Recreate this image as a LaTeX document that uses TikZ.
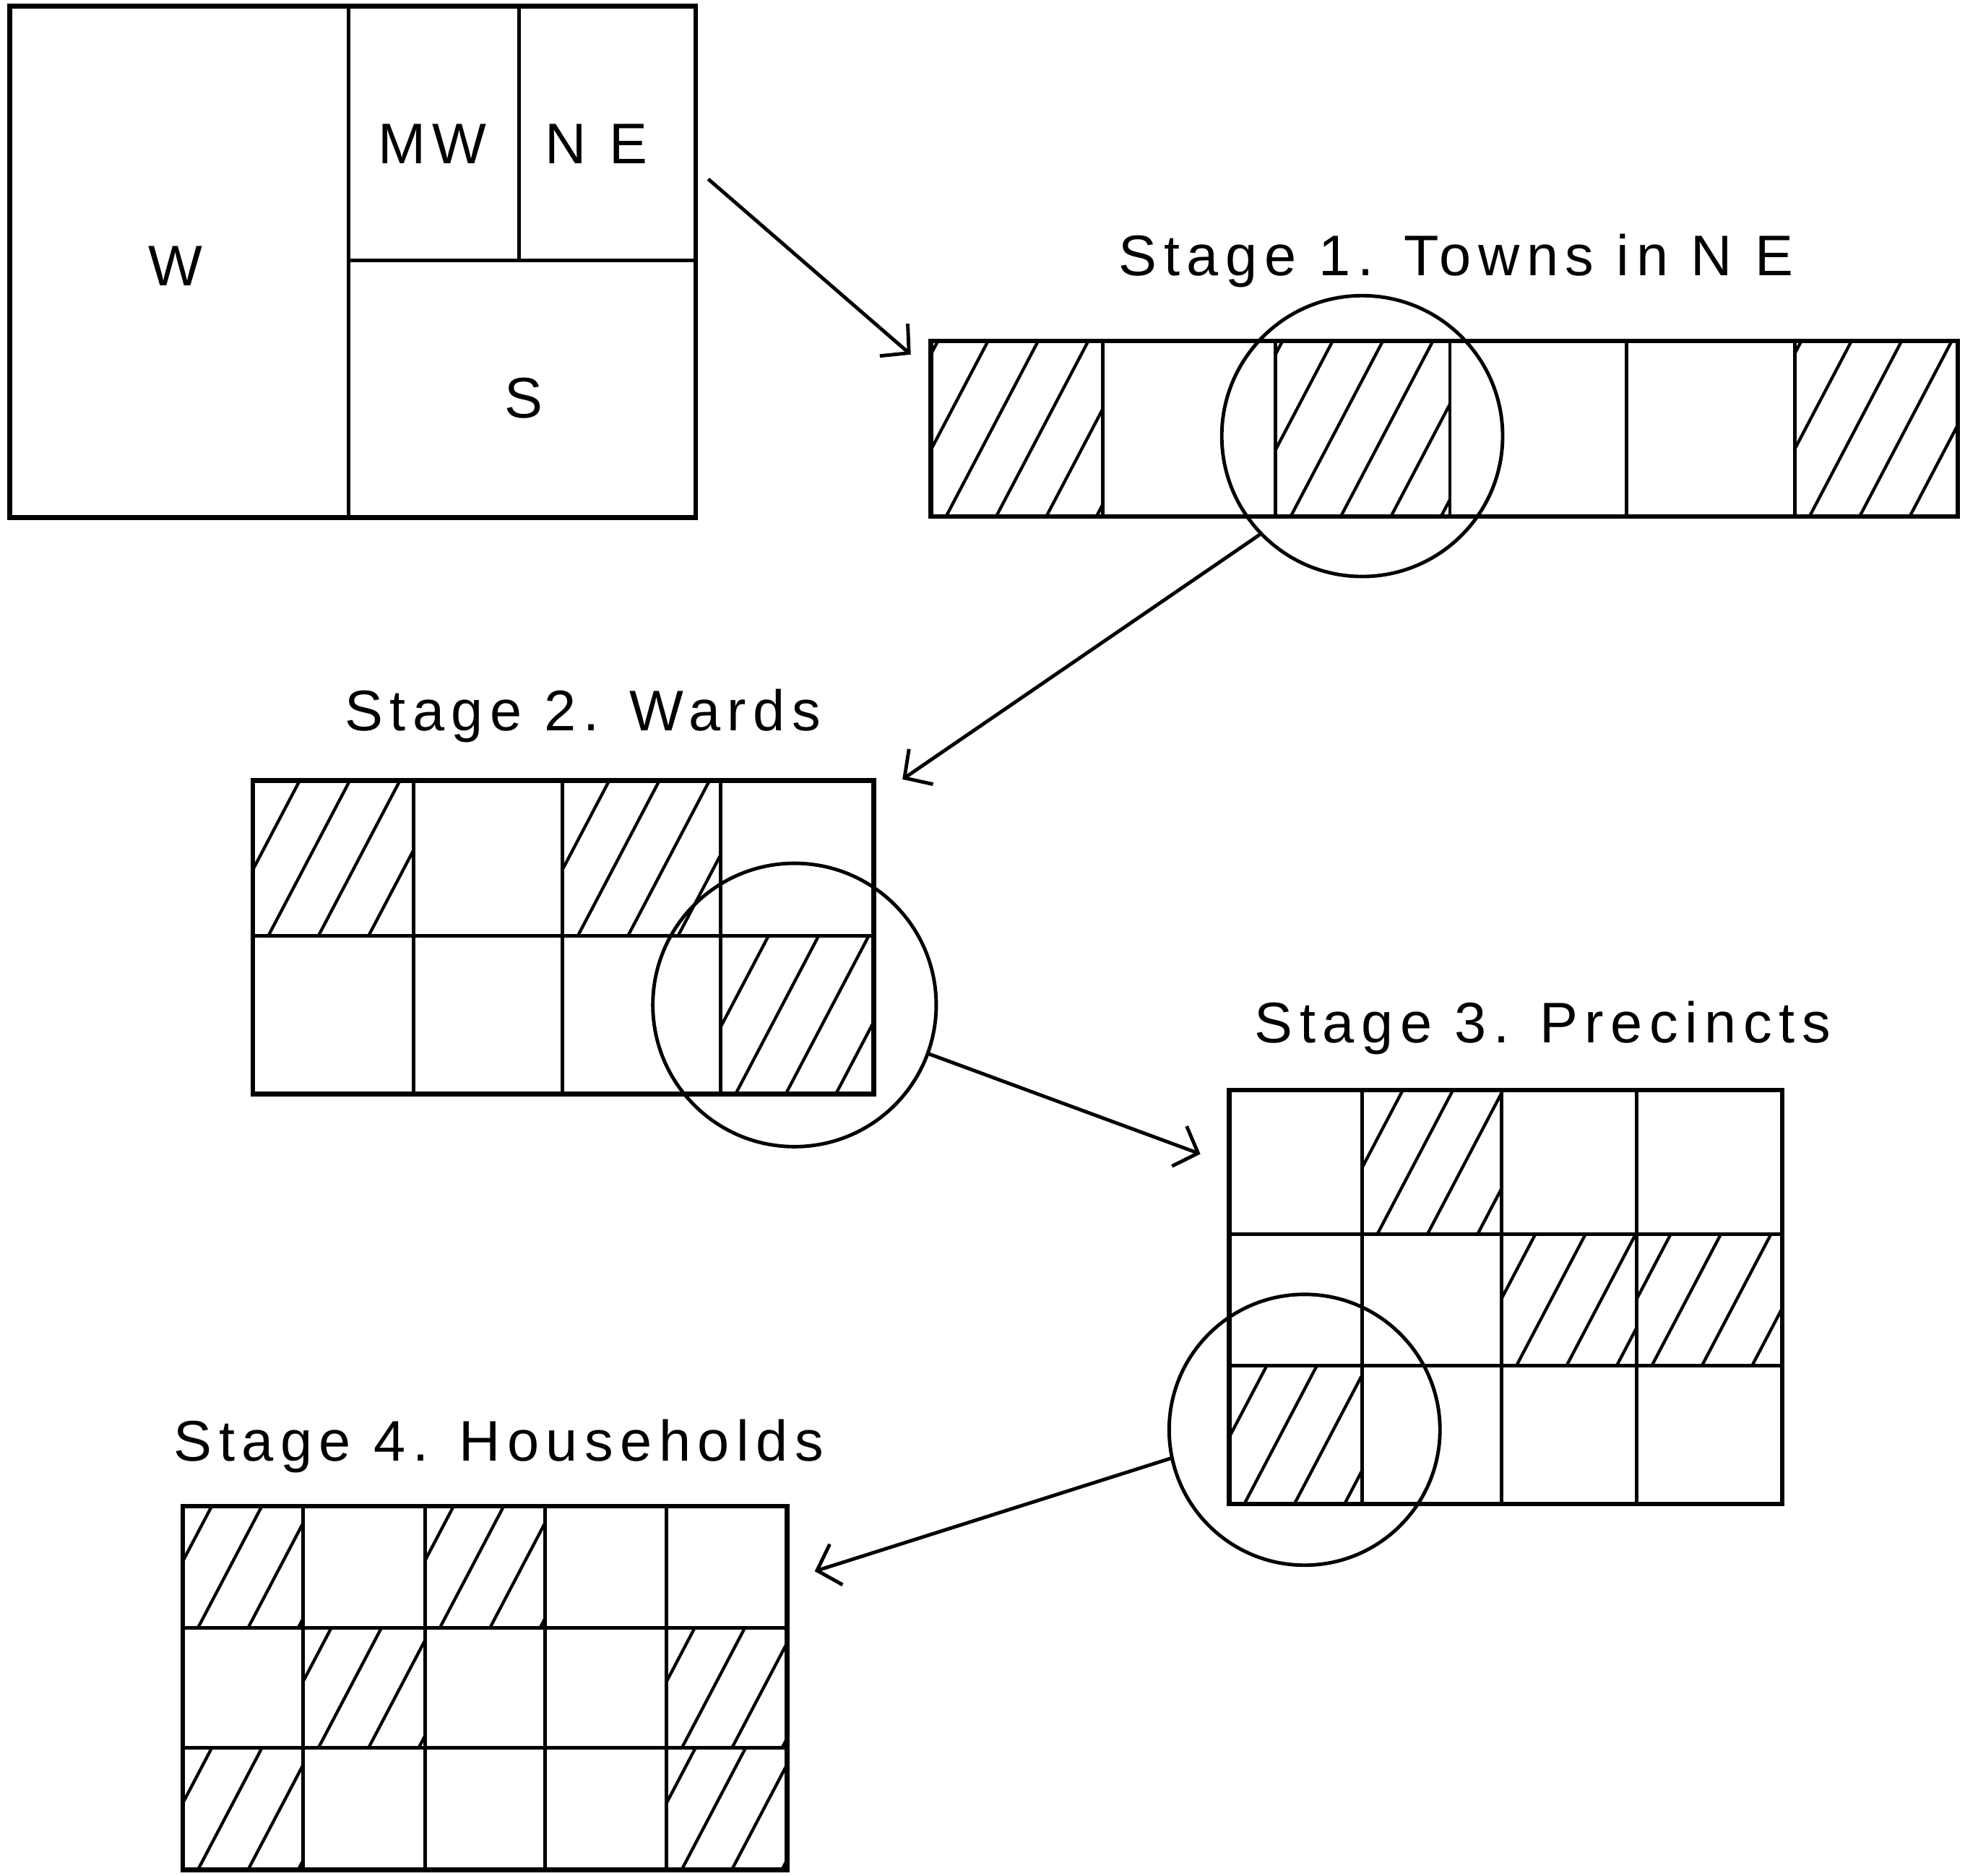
\documentclass[tikz,border=0pt]{standalone}
\usepackage{fontspec}
\setmainfont{Liberation Sans}
\newfontfamily\handfont[LetterSpace=12]{Liberation Sans}
\usepackage{tikz}
\usetikzlibrary{arrows.meta}

\newcommand{\hatchcell}[4]{%
  \begin{scope}
    \clip (#1,#2) rectangle (#3,#4);
    \foreach \k in {-5,...,5}
      \draw[hatch] ({#1+12+\k*40},#4) -- ++(105,-200);
  \end{scope}}

\begin{document}
\begin{tikzpicture}[
  x=0.01cm, y=-0.01cm,
  panel/.style={
    rectangle,
    draw,
    line width=1.05pt,
    inner sep=0pt,
    outer sep=0pt
  },
  grid/.style={line width=0.8pt},
  hatch/.style={line width=0.7pt},
  loupe/.style={circle, draw, line width=0.8pt, inner sep=0pt, outer sep=0pt},
  lbl/.style={font=\handfont\fontsize{13}{15}\selectfont},
  title/.style={font=\handfont\fontsize{13}{15}\selectfont, anchor=base},
  rel/.style={line width=0.8pt, -{Straight Barb[length=1.6mm,width=3.4mm]}}
]
\useasboundingbox (0,0) rectangle (1568,1497);

\node[panel, minimum width=5.47cm, minimum height=4.08cm] (map) at (281.5,209) {};
\draw[grid] (278,5) -- (278,413);
\draw[grid] (278,208) -- (555,208);
\draw[grid] (414,5) -- (414,208);
\node[lbl] (w) at (140,212) {W};
\node[lbl] (mw) at (345,115) {MW};
\node[lbl] (ne) at (476,115) {N E};
\node[lbl] (s) at (418,318) {S};

\node[title] (t1) at (1162,220) {Stage 1. Towns in N E};
\hatchcell{743}{272}{880}{412}
\hatchcell{1018}{272}{1157}{412}
\hatchcell{1432}{272}{1562}{412}
\node[panel, minimum width=8.19cm, minimum height=1.40cm] (s1) at (1152.5,342) {};
\foreach \x in {880,1018,1157,1298,1432}
  \draw[grid] (\x,272) -- (\x,412);
\node[loupe, minimum size=2.24cm] (c1) at (1087,348) {};

\node[title] (t2) at (465,583) {Stage 2. Wards};
\hatchcell{202}{623}{330}{747}
\hatchcell{449}{623}{575}{747}
\hatchcell{575}{747}{697}{873}
\node[panel, minimum width=4.95cm, minimum height=2.50cm] (s2) at (449.5,748) {};
\foreach \x in {330,449,575}
  \draw[grid] (\x,623) -- (\x,873);
\draw[grid] (202,747) -- (697,747);
\node[loupe, minimum size=2.26cm] (c2) at (634,802) {};

\node[title] (t3) at (1231,832) {Stage 3. Precincts};
\hatchcell{1087}{870}{1198}{985}
\hatchcell{1198}{985}{1306}{1090}
\hatchcell{1306}{985}{1422}{1090}
\hatchcell{981}{1090}{1087}{1200}
\node[panel, minimum width=4.41cm, minimum height=3.30cm] (s3) at (1201.5,1035) {};
\foreach \x in {1087,1198,1306}
  \draw[grid] (\x,870) -- (\x,1200);
\foreach \y in {985,1090}
  \draw[grid] (981,\y) -- (1422,\y);
\node[loupe, minimum size=2.16cm] (c3) at (1041,1141) {};

\node[title] (t4) at (398,1166) {Stage 4. Households};
\hatchcell{146}{1202}{242}{1299}
\hatchcell{339}{1202}{435}{1299}
\hatchcell{242}{1299}{339}{1395}
\hatchcell{532}{1299}{628}{1395}
\hatchcell{146}{1395}{242}{1492}
\hatchcell{532}{1395}{628}{1492}
\node[panel, minimum width=4.82cm, minimum height=2.90cm] (s4) at (387,1347) {};
\foreach \x in {242,339,435,532}
  \draw[grid] (\x,1202) -- (\x,1492);
\foreach \y in {1299,1395}
  \draw[grid] (146,\y) -- (628,\y);

\draw[rel] ([shift={(10,138)}]map.north east) -- ([shift={(-16,11)}]s1.north west);
\draw[rel] (c1.224) -- ([shift={(23,-1)}]s2.north east);
\draw[rel] (c2.340) -- ([shift={(-23,51)}]s3.north west);
\draw[rel] (c3.192) -- ([shift={(22,52)}]s4.north east);
\end{tikzpicture}
\end{document}
